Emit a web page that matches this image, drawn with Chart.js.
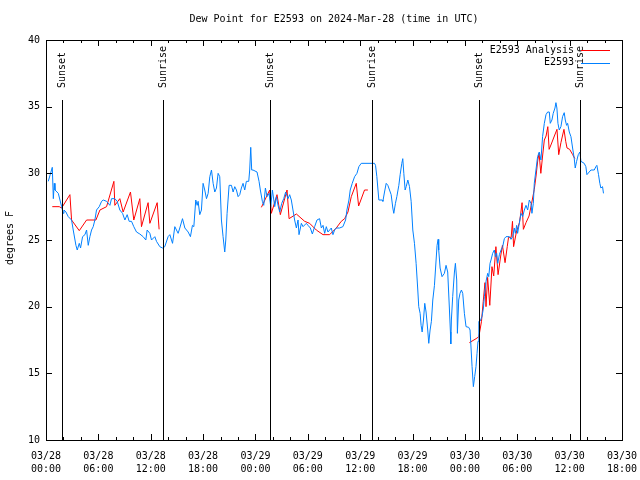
<!DOCTYPE html>
<html>
<head>
<meta charset="utf-8">
<script src="https://cdn.jsdelivr.net/npm/chart.js@4"></script>
<style>
  html, body { margin: 0; padding: 0; background: #fff; }
  #wrap { width: 640px; height: 480px; }
</style>
</head>
<body>
<div id="wrap"><canvas id="chart" width="640" height="480"></canvas></div>
<script>
const FONT = "'DejaVu Sans Mono', monospace";
const TITLE = 'Dew Point for E2593 on 2024-Mar-28 (time in UTC)';

const dateLabels = ['03/28', '03/28', '03/28', '03/28', '03/29', '03/29', '03/29', '03/29', '03/30', '03/30', '03/30', '03/30'];
const timeLabels = ['00:00', '06:00', '12:00', '18:00', '00:00', '06:00', '12:00', '18:00', '00:00', '06:00', '12:00', '18:00'];

const eventHours = [1.8, 13.42, 25.7, 37.37, 49.58, 61.21];
const eventNames = ['Sunset', 'Sunrise', 'Sunset', 'Sunrise', 'Sunset', 'Sunrise'];

// hours since 03/28 00:00 UTC
const obsHours = [
  0.26, 0.72, 0.84, 0.95, 1.03, 1.41, 1.6, 1.79, 1.98, 2.06, 2.28, 2.55, 2.93, 3.12, 3.43, 3.58, 3.81, 3.96, 4.19, 4.46,
  4.65, 4.84, 5.03, 5.22, 5.41, 5.6, 5.79, 6.1, 6.37, 6.56, 6.94, 7.32, 7.51, 7.89, 8.16, 8.46, 8.77, 9.04, 9.3, 9.53,
  9.8, 10.06, 10.37, 10.75, 11.13, 11.44, 11.59, 11.9, 12.09, 12.47, 12.66, 13.04, 13.35, 13.61, 13.99, 14.19, 14.5, 14.76, 14.95, 15.14,
  15.33, 15.64, 15.91, 16.29, 16.55, 16.78, 16.94, 17.16, 17.32, 17.43, 17.62, 17.81, 18.0, 18.19, 18.39, 18.58, 18.77, 18.96, 19.15, 19.34,
  19.53, 19.72, 19.91, 20.1, 20.29, 20.48, 20.6, 20.75, 20.98, 21.25, 21.44, 21.63, 21.82, 22.01, 22.2, 22.39, 22.58, 22.77, 22.96, 23.23,
  23.34, 23.46, 23.57, 23.72, 24.18, 24.41, 24.56, 24.79, 24.95, 25.14, 25.33, 25.56, 25.75, 25.94, 26.21, 26.4, 26.59, 26.78, 27.01, 27.24,
  27.46, 27.73, 27.92, 28.11, 28.3, 28.49, 28.69, 28.88, 28.99, 29.26, 29.45, 29.83, 30.02, 30.29, 30.52, 30.78, 31.05, 31.35, 31.55, 31.74,
  31.93, 32.12, 32.31, 32.5, 32.69, 32.88, 33.07, 33.26, 33.64, 34.02, 34.33, 34.48, 34.71, 34.86, 35.09, 35.36, 35.63, 35.85, 36.12, 37.46,
  37.64, 37.76, 37.91, 38.14, 38.52, 38.6, 38.79, 38.98, 39.17, 39.36, 39.55, 39.74, 39.85, 40.04, 40.2, 40.43, 40.58, 40.77, 40.88, 41.0,
  41.15, 41.27, 41.46, 41.65, 41.84, 42.03, 42.22, 42.41, 42.6, 42.71, 42.87, 42.98, 43.1, 43.25, 43.4, 43.55, 43.74, 43.86, 44.01, 44.16,
  44.32, 44.51, 44.7, 44.81, 44.93, 45.0, 45.16, 45.38, 45.65, 45.84, 46.03, 46.22, 46.34, 46.38, 46.45, 46.6, 46.8, 46.91, 47.06, 47.14,
  47.29, 47.44, 47.6, 47.75, 47.94, 48.13, 48.44, 48.59, 48.82, 48.97, 49.12, 49.27, 49.39, 49.5, 49.6, 49.73, 49.96, 50.12, 50.23, 50.42,
  50.61, 50.73, 50.88, 50.99, 51.18, 51.37, 51.49, 51.64, 51.76, 51.95, 52.14, 52.33, 52.52, 52.71, 53.09, 53.28, 53.47, 53.66, 53.78, 53.93,
  54.04, 54.23, 54.43, 54.62, 54.81, 55.0, 55.19, 55.38, 55.57, 55.68, 55.84, 55.95, 56.14, 56.33, 56.52, 56.71, 56.9, 57.1, 57.29, 57.48,
  57.67, 57.78, 57.97, 58.12, 58.32, 58.43, 58.54, 58.66, 58.81, 59.0, 59.19, 59.38, 59.5, 59.65, 59.77, 59.96, 60.15, 60.34, 60.53, 60.64,
  60.8, 60.99, 61.18, 61.29, 61.67, 61.86, 61.98, 62.24, 62.44, 62.82, 63.01, 63.12, 63.31, 63.46, 63.58, 63.77, 63.88
];
const obsDew = [
  29.4, 30.45, 28.1, 29.25, 28.75, 28.5, 28.0, 27.5, 27.0, 27.25, 27.1, 26.75, 26.5, 25.75, 24.6, 24.25, 24.75, 24.4, 25.25, 25.4,
  25.75, 24.6, 25.25, 25.75, 26.0, 26.5, 27.25, 27.5, 27.9, 28.0, 27.9, 27.6, 28.1, 28.1, 27.9, 27.25, 27.0, 26.5, 26.9, 26.4,
  26.4, 26.0, 25.6, 25.45, 25.25, 25.0, 25.75, 25.5, 25.0, 25.25, 24.9, 24.5, 24.4, 24.5, 25.25, 25.4, 24.75, 26.0, 25.75, 25.5,
  25.9, 26.6, 25.9, 25.6, 25.25, 26.1, 26.0, 28.0, 27.6, 27.9, 26.9, 27.25, 29.25, 28.75, 28.1, 28.5, 29.75, 30.25, 29.25, 28.6,
  28.9, 30.0, 29.75, 26.5, 25.25, 24.1, 25.0, 27.0, 29.1, 29.1, 28.6, 29.0, 28.75, 28.25, 28.4, 28.9, 29.25, 28.75, 29.4, 29.4,
  30.25, 31.95, 30.25, 30.25, 30.1, 29.4, 28.75, 27.9, 27.6, 28.9, 28.25, 28.5, 27.5, 28.75, 27.5, 28.25, 27.6, 27.1, 27.75, 28.1,
  28.6, 28.1, 28.4, 28.0, 27.25, 26.5, 25.9, 26.5, 25.4, 26.25, 26.0, 26.25, 26.1, 25.9, 25.45, 26.0, 26.5, 26.6, 25.9, 26.1,
  25.5, 26.0, 25.6, 25.75, 25.9, 25.4, 25.75, 25.9, 25.9, 26.0, 26.5, 27.25, 28.0, 28.75, 29.25, 29.75, 30.0, 30.5, 30.75, 30.75,
  30.75, 30.6, 29.75, 28.0, 28.0, 27.9, 28.6, 29.25, 29.1, 28.75, 28.4, 27.4, 27.0, 27.75, 28.25, 29.1, 29.9, 30.75, 31.1, 30.0,
  28.75, 29.0, 29.5, 29.0, 27.9, 25.75, 24.75, 23.25, 21.25, 20.0, 19.5, 18.6, 18.1, 19.0, 20.25, 19.6, 18.25, 17.25, 18.25, 18.9,
  20.5, 21.6, 23.5, 24.6, 25.05, 24.25, 22.9, 22.25, 22.5, 23.1, 22.6, 19.9, 18.1, 17.2, 19.0, 20.75, 22.6, 23.25, 22.0, 18.0,
  20.5, 21.0, 21.25, 21.0, 19.5, 18.5, 18.45, 18.25, 15.5, 14.0, 14.75, 15.5, 16.5, 17.4, 18.9, 18.9, 19.25, 19.9, 20.75, 21.9,
  22.5, 22.25, 23.25, 23.5, 24.0, 24.25, 23.75, 24.0, 23.25, 23.9, 24.25, 24.5, 25.1, 25.25, 25.25, 25.05, 25.25, 25.9, 25.5, 26.1,
  25.5, 26.25, 27.0, 26.75, 27.25, 27.6, 27.25, 28.0, 27.75, 27.0, 27.75, 29.25, 30.25, 31.25, 31.6, 31.0, 32.75, 33.75, 34.4, 34.6,
  34.6, 33.75, 34.0, 34.5, 34.9, 35.3, 34.9, 33.75, 33.25, 33.5, 34.25, 34.55, 34.0, 33.6, 33.75, 33.1, 32.75, 31.9, 31.1, 30.4,
  30.9, 31.4, 31.6, 30.9, 30.75, 30.5, 29.9, 30.1, 30.25, 30.25, 30.5, 30.6, 29.9, 29.25, 28.9, 29.0, 28.5
];

// analysis runs; null marks a break between runs
const anaHours = [
  0.72, 1.52, 1.79, 2.74, 2.93, 3.81, 4.65, 5.72, 6.18, 6.94, 7.78, 7.89, 8.46, 8.84, 9.68, 10.06, 10.75, 10.94, 11.7, 11.9,
  12.74, 12.96, 18.0,
  24.68, 25.63, 25.82, 26.47, 26.85, 27.62, 27.85, 28.69, 29.64, 30.21, 30.97, 31.74, 32.5, 33.26, 33.83, 34.22, 34.6, 34.98, 35.55, 35.82,
  36.5, 36.88, 42.0,
  48.51, 49.28, 49.6, 49.9, 50.1, 50.3, 50.42, 50.6, 50.85, 51.1, 51.3, 51.55, 51.8, 52.1, 52.3, 52.6, 52.85, 53.0, 53.3, 53.45,
  53.58, 53.9, 54.25, 54.4, 54.55, 54.7, 55.0, 55.35, 55.6, 55.95, 56.15, 56.35, 56.5, 56.7, 56.9, 57.1, 57.3, 57.5, 57.65, 57.9,
  58.25, 58.55, 58.75, 59.0, 59.35, 59.55, 59.7, 60.0, 60.35, 60.6
];
const anaDew = [
  27.5, 27.5, 27.4, 28.4, 26.5, 25.7, 26.5, 26.5, 27.25, 27.5, 29.4, 27.6, 28.1, 27.1, 28.6, 26.5, 28.1, 26.0, 27.8, 26.25,
  27.8, 25.8, null,
  27.45, 28.75, 27.0, 28.4, 26.9, 28.75, 26.6, 26.95, 26.4, 26.25, 25.75, 25.4, 25.4, 25.9, 26.4, 26.6, 27.1, 28.25, 29.25, 27.55,
  28.75, 28.75, null,
  17.3, 17.6, 17.75, 18.9, 20.4, 21.8, 20.0, 22.2, 20.1, 23.0, 22.3, 24.5, 22.4, 23.8, 24.6, 23.3, 24.5, 25.2, 25.2, 26.4,
  24.5, 25.6, 26.3, 27.0, 27.8, 25.8, 26.3, 26.8, 27.6, 28.8, 29.8, 31.0, 31.5, 30.0, 31.3, 32.5, 32.8, 33.5, 31.8, 32.2,
  32.8, 33.3, 31.4, 32.3, 33.3, 32.4, 31.9, 31.8, 31.4, 31.1
];

function toPoints(xs, ys) {
  return xs.map((x, i) => ({ x: x, y: ys[i] }));
}

const framePlugin = {
  id: 'frame',
  afterDraw(chart) {
    const ctx = chart.ctx;
    const a = chart.chartArea;
    const xs = chart.scales.x;
    const ys = chart.scales.y;
    ctx.save();
    ctx.strokeStyle = '#000';
    ctx.lineWidth = 1;
    ctx.beginPath();
    ys.ticks.forEach(t => {
      const py = Math.round(ys.getPixelForValue(t.value)) + 0.5;
      ctx.moveTo(a.left, py); ctx.lineTo(a.left + 6, py);
      ctx.moveTo(a.right, py); ctx.lineTo(a.right - 6, py);
    });
    for (let h = 0; h <= 66; h += 2) {
      const px = Math.round(xs.getPixelForValue(h)) + 0.5;
      const len = h % 6 === 0 ? 6 : 3;
      ctx.moveTo(px, a.bottom); ctx.lineTo(px, a.bottom - len);
      ctx.moveTo(px, a.top); ctx.lineTo(px, a.top + len);
    }
    eventHours.forEach(h => {
      const px = Math.round(xs.getPixelForValue(h)) + 0.5;
      ctx.moveTo(px, 100); ctx.lineTo(px, a.bottom);
    });
    ctx.stroke();
    ctx.strokeRect(Math.round(a.left) + 0.5, Math.round(a.top) + 0.5, Math.round(a.right - a.left), Math.round(a.bottom - a.top));

    ctx.fillStyle = '#000';
    ctx.font = '10px ' + FONT;
    ctx.textBaseline = 'middle';
    ctx.textAlign = 'center';
    ctx.fillText(TITLE, (a.left + a.right) / 2, 19);

    eventHours.forEach((h, i) => {
      const px = Math.round(xs.getPixelForValue(h));
      ctx.save();
      ctx.translate(px, 88);
      ctx.rotate(-Math.PI / 2);
      ctx.textAlign = 'left';
      ctx.fillText(eventNames[i], 0, 0);
      ctx.restore();
    });

    ctx.save();
    ctx.translate(10, 238);
    ctx.rotate(-Math.PI / 2);
    ctx.textAlign = 'center';
    ctx.fillText('degrees F', 0, 0);
    ctx.restore();

    chart.data.datasets.forEach((ds, i) => {
      const ly = 50 + i * 12.5;
      ctx.textAlign = 'right';
      ctx.fillText(ds.label, 574, ly);
      ctx.strokeStyle = ds.borderColor;
      ctx.beginPath();
      ctx.moveTo(581, Math.round(ly) + 0.5);
      ctx.lineTo(610, Math.round(ly) + 0.5);
      ctx.stroke();
    });
    ctx.restore();
  }
};

new Chart(document.getElementById('chart'), {
  type: 'line',
  data: {
    datasets: [
      {
        label: 'E2593 Analysis',
        data: toPoints(anaHours, anaDew),
        borderColor: '#ff0000',
        borderWidth: 1,
        pointRadius: 0,
        spanGaps: false,
        order: 2
      },
      {
        label: 'E2593',
        data: toPoints(obsHours, obsDew),
        borderColor: '#0080ff',
        borderWidth: 1,
        pointRadius: 0,
        order: 1
      }
    ]
  },
  options: {
    responsive: false,
    animation: false,
    devicePixelRatio: 1,
    layout: { padding: { left: 0, right: 18, top: 40, bottom: 0 } },
    elements: { line: { tension: 0 } },
    scales: {
      x: {
        type: 'linear',
        min: 0,
        max: 66,
        afterFit: s => { s.height = 40; s.paddingLeft = 0; s.paddingRight = 0; },
        grid: { display: false, drawTicks: false },
        border: { display: false },
        ticks: {
          stepSize: 6,
          autoSkip: false,
          maxRotation: 0,
          padding: 10,
          color: '#000',
          font: { family: FONT, size: 10, lineHeight: 1.3 },
          callback: v => [dateLabels[v / 6], timeLabels[v / 6]]
        }
      },
      y: {
        min: 10,
        max: 40,
        afterFit: s => { s.width = 46; s.paddingTop = 0; s.paddingBottom = 0; },
        grid: { display: false, drawTicks: false },
        border: { display: false },
        ticks: {
          stepSize: 5,
          padding: 6,
          color: '#000',
          font: { family: FONT, size: 10 }
        }
      }
    },
    plugins: {
      legend: { display: false },
      tooltip: { enabled: false },
      title: { display: false }
    }
  },
  plugins: [framePlugin]
});
</script>
</body>
</html>
